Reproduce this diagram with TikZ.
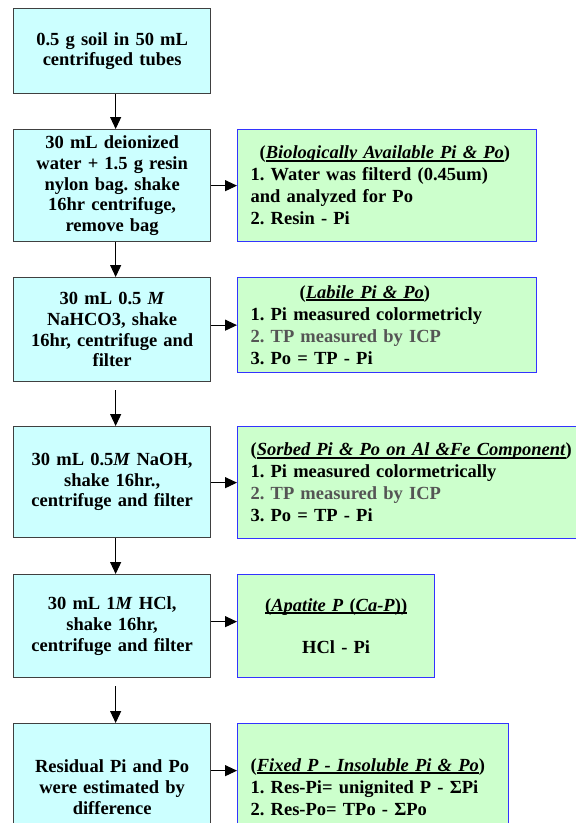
\documentclass[tikz,border=0pt]{standalone}
\usepackage{fontspec}
\setmainfont{Liberation Serif}
\usetikzlibrary{arrows.meta}
\definecolor{cyanfill}{HTML}{CCFFFF}
\definecolor{greenfill}{HTML}{CCFFCC}
\definecolor{blueline}{HTML}{3333FF}
\definecolor{grayline}{HTML}{404040}
\definecolor{tpgray}{HTML}{555555}
\newcommand\thul[1]{\begingroup\setbox0\hbox{#1}\rlap{\rule[-2.6pt]{\wd0}{1.6pt}}\box0\endgroup}
\frenchspacing
\begin{document}
\begin{tikzpicture}[x=1pt,y=-1pt,
  stepbox/.style={draw=grayline, fill=cyanfill, line width=1.3pt, inner sep=0pt,
    minimum width=197pt, align=center, text width=192pt,
    font=\fontsize{18.5}{20.7}\selectfont\bfseries, anchor=north west},
  resbox/.style={draw=blueline, fill=greenfill, line width=1.3pt, inner xsep=13pt,
    inner ysep=0pt, align=left, font=\fontsize{18.5}{22}\selectfont\bfseries, anchor=north west},
  arr/.style={-{Triangle[length=12pt,width=11pt]}, line width=1.1pt, black}]
\useasboundingbox (0,0) rectangle (576,823);
\clip (0,0) rectangle (576,823);

% left column
\node[stepbox, minimum height=85pt] (b1) at (13,8) {0.5 g soil in 50 mL\\centrifuged tubes};
\node[stepbox, minimum height=112pt] (b2) at (13,129) {30 mL deionized\\water + 1.5 g resin\\nylon bag. shake\\16hr centrifuge,\\remove bag};
\node[stepbox, minimum height=104pt] (b3) at (13,277) {30 mL 0.5 \textit{M}\\NaHCO3, shake\\16hr, centrifuge and\\filter};
\node[stepbox, minimum height=111pt] (b4) at (13,426) {30 mL 0.5\textit{M} NaOH,\\shake 16hr.,\\centrifuge and filter};
\node[stepbox, minimum height=103pt] (b5) at (13,574) {30 mL 1\textit{M} HCl,\\shake 16hr,\\centrifuge and filter};
\node[stepbox, minimum height=127pt] (b6) at (13,723) {Residual Pi and Po\\were estimated by\\difference};

% right column
\node[resbox, minimum width=299pt, minimum height=112pt, text width=273pt] (g1) at (237,129)
  {\hspace*{9pt}(\thul{\textit{Biologically Available Pi \& Po}})\\1. Water was filterd (0.45um)\\and analyzed for Po\\2. Resin - Pi};
\node[resbox, minimum width=299pt, minimum height=95pt, text width=273pt] (g2) at (237,277)
  {\hspace*{49pt}(\thul{\textit{Labile Pi \& Po}})\\1. Pi measured colormetricly\\\textcolor{tpgray}{2. TP measured by ICP}\\3. Po = TP - Pi};
\node[resbox, minimum width=343pt, minimum height=112pt, text width=317pt] (g3) at (237,426)
  {(\thul{\textit{Sorbed Pi \& Po on Al \&Fe Component}})\\1. Pi measured colormetrically\\\textcolor{tpgray}{2. TP measured by ICP}\\3. Po = TP - Pi};
\node[resbox, minimum width=197pt, minimum height=103pt, text width=171pt, align=center] (g4) at (237,574)
  {\thul{(\textit{Apatite P} (\textit{Ca-P}))}\\[20pt]HCl - Pi};
\node[resbox, minimum width=271pt, minimum height=127pt, text width=245pt] (g5) at (237,723)
  {(\thul{\textit{Fixed P - Insoluble Pi \& Po}})\\1. Res-Pi= unignited P - ΣPi\\2. Res-Po= TPo - ΣPo};

% vertical arrows
\draw[arr] ([xshift=3.5pt]b1.south) -- ([xshift=3.5pt]b2.north);
\draw[arr] ([xshift=3.5pt]b2.south) -- ([xshift=3.5pt]b3.north);
\draw[arr] ([xshift=3.5pt,yshift=-8pt]b3.south) -- ([xshift=3.5pt]b4.north);
\draw[arr] ([xshift=3.5pt]b4.south) -- ([xshift=3.5pt]b5.north);
\draw[arr] ([xshift=3.5pt,yshift=-8pt]b5.south) -- ([xshift=3.5pt]b6.north);

% horizontal arrows
\draw[arr] (b2.east) -- (g1.west);
\draw[arr] (b3.east |- g2.west) -- (g2.west);
\draw[arr] (b4.east |- g3.west) -- (g3.west);
\draw[arr] ([yshift=4.5pt]b5.east) -- ([yshift=4.5pt]g4.west);
\draw[arr] ([yshift=16.5pt]b6.east) -- ([yshift=16.5pt]g5.west);
\end{tikzpicture}
\end{document}
